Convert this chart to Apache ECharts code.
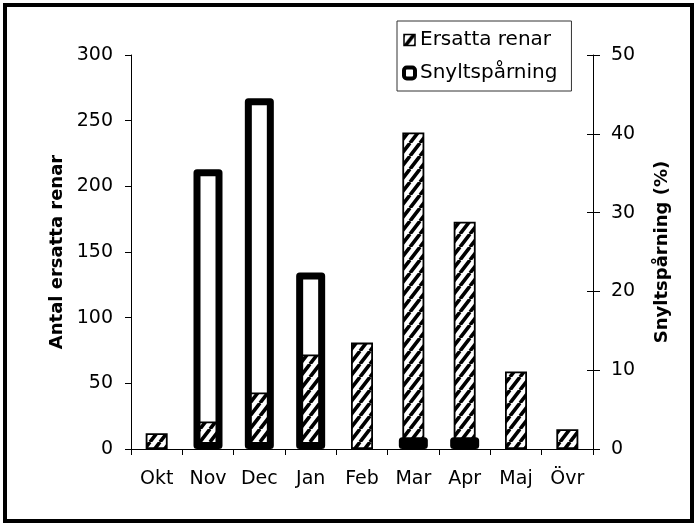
<!DOCTYPE html>
<html>
<head>
<meta charset="utf-8">
<script src="https://cdn.jsdelivr.net/npm/echarts@6/dist/echarts.min.js"></script>
<style>
html,body{margin:0;padding:0;background:#fff;}
#chart{width:697px;height:526px;}
</style>
</head>
<body>
<div id="chart"></div>
<script>
const categories = ['Okt','Nov','Dec','Jan','Feb','Mar','Apr','Maj','Övr'];
const ersattaRenar = [12, 21, 43, 72, 81, 241, 173, 59, 15];
const snyltsparning = [null, 35.5, 44.5, 22.4, null, 1.5, 1.5, null, null];
const leftAxis = {min: 0, max: 300, interval: 50};
const rightAxis = {min: 0, max: 50, interval: 10};
const seriesNames = ['Ersatta renar', 'Snyltspårning'];
const axisTitles = ['Antal ersatta renar', 'Snyltspårning (%)'];

function hatchPattern() {
  const w = 10, h = 13;
  const c = document.createElement('canvas');
  c.width = w; c.height = h;
  const ctx = c.getContext('2d');
  ctx.fillStyle = '#fff';
  ctx.fillRect(0, 0, w, h);
  ctx.strokeStyle = '#000';
  ctx.lineWidth = 3.6;
  ctx.beginPath();
  for (const k of [0, 1, 2]) {
    ctx.moveTo((k - 1) * w, h);
    ctx.lineTo(k * w, 0);
  }
  ctx.stroke();
  return c;
}
const hatch = {image: hatchPattern(), repeat: 'repeat'};

const FONT = 'DejaVu Sans';
const chart = echarts.init(document.getElementById('chart'), null, {renderer: 'canvas'});
chart.setOption({
  animation: false,
  backgroundColor: '#fff',
  textStyle: {fontFamily: FONT, color: '#000'},
  grid: {left: 131, right: 104, top: 55, bottom: 77},
  legend: {
    orient: 'vertical',
    left: 397, top: 21,
    padding: [8, 14, 7, 5],
    itemGap: 11,
    itemWidth: 11, itemHeight: 11,
    borderColor: '#333', borderWidth: 1,
    textStyle: {fontFamily: FONT, fontSize: 20, color: '#000', lineHeight: 22},
    data: [
      {name: seriesNames[0], icon: 'rect', itemStyle: {color: hatch, borderColor: '#000', borderWidth: 1.5}},
      {name: seriesNames[1], icon: 'roundRect', itemStyle: {color: '#fff', borderColor: '#000', borderWidth: 4}}
    ]
  },
  graphic: [{
    type: 'rect', silent: true, z: 100,
    shape: {x: 5, y: 5, width: 687, height: 516},
    style: {fill: 'none', stroke: '#000', lineWidth: 4}
  }],
  xAxis: [
    {
      type: 'category',
      data: categories,
      axisLine: {lineStyle: {color: '#000', width: 1}},
      axisTick: {show: true, alignWithLabel: false, length: 6, lineStyle: {color: '#000'}},
      axisLabel: {fontFamily: FONT, fontSize: 19, color: '#000', margin: 21}
    },
    {
      type: 'category',
      data: categories,
      show: false
    }
  ],
  yAxis: [
    {
      type: 'value', position: 'left',
      min: leftAxis.min, max: leftAxis.max, interval: leftAxis.interval,
      name: axisTitles[0], nameLocation: 'middle', nameRotate: 90, nameGap: 64,
      nameTextStyle: {fontFamily: FONT, fontWeight: 'bold', fontSize: 18, color: '#000'},
      axisLine: {show: true, lineStyle: {color: '#000', width: 1}},
      axisTick: {show: true, length: 6, lineStyle: {color: '#000'}},
      axisLabel: {fontFamily: FONT, fontSize: 19, color: '#000', margin: 18},
      splitLine: {show: false}
    },
    {
      type: 'value', position: 'right',
      min: rightAxis.min, max: rightAxis.max, interval: rightAxis.interval,
      name: axisTitles[1], nameLocation: 'middle', nameRotate: 90, nameGap: 60,
      nameTextStyle: {fontFamily: FONT, fontWeight: 'bold', fontSize: 18, color: '#000'},
      axisLine: {show: true, lineStyle: {color: '#000', width: 1}},
      axisTick: {show: true, length: 7, lineStyle: {color: '#000'}},
      axisLabel: {fontFamily: FONT, fontSize: 19, color: '#000', margin: 18},
      splitLine: {show: false}
    },
    {
      type: 'value', position: 'right',
      min: rightAxis.min, max: rightAxis.max, interval: rightAxis.interval,
      axisLine: {show: false},
      axisTick: {show: true, inside: true, length: 6, lineStyle: {color: '#000'}},
      axisLabel: {show: false},
      splitLine: {show: false}
    }
  ],
  series: [
    {
      name: seriesNames[0], type: 'bar', xAxisIndex: 0, yAxisIndex: 0,
      data: ersattaRenar,
      barWidth: 22,
      itemStyle: {color: hatch, borderColor: '#000', borderWidth: 1.8},
      emphasis: {disabled: true}
    },
    {
      name: seriesNames[1], type: 'bar', xAxisIndex: 1, yAxisIndex: 1,
      data: snyltsparning,
      barWidth: 29,
      clip: false,
      itemStyle: {color: 'rgba(0,0,0,0)', borderColor: '#000', borderWidth: 7, borderJoin: 'round'},
      emphasis: {disabled: true}
    }
  ]
});
</script>
</body>
</html>
